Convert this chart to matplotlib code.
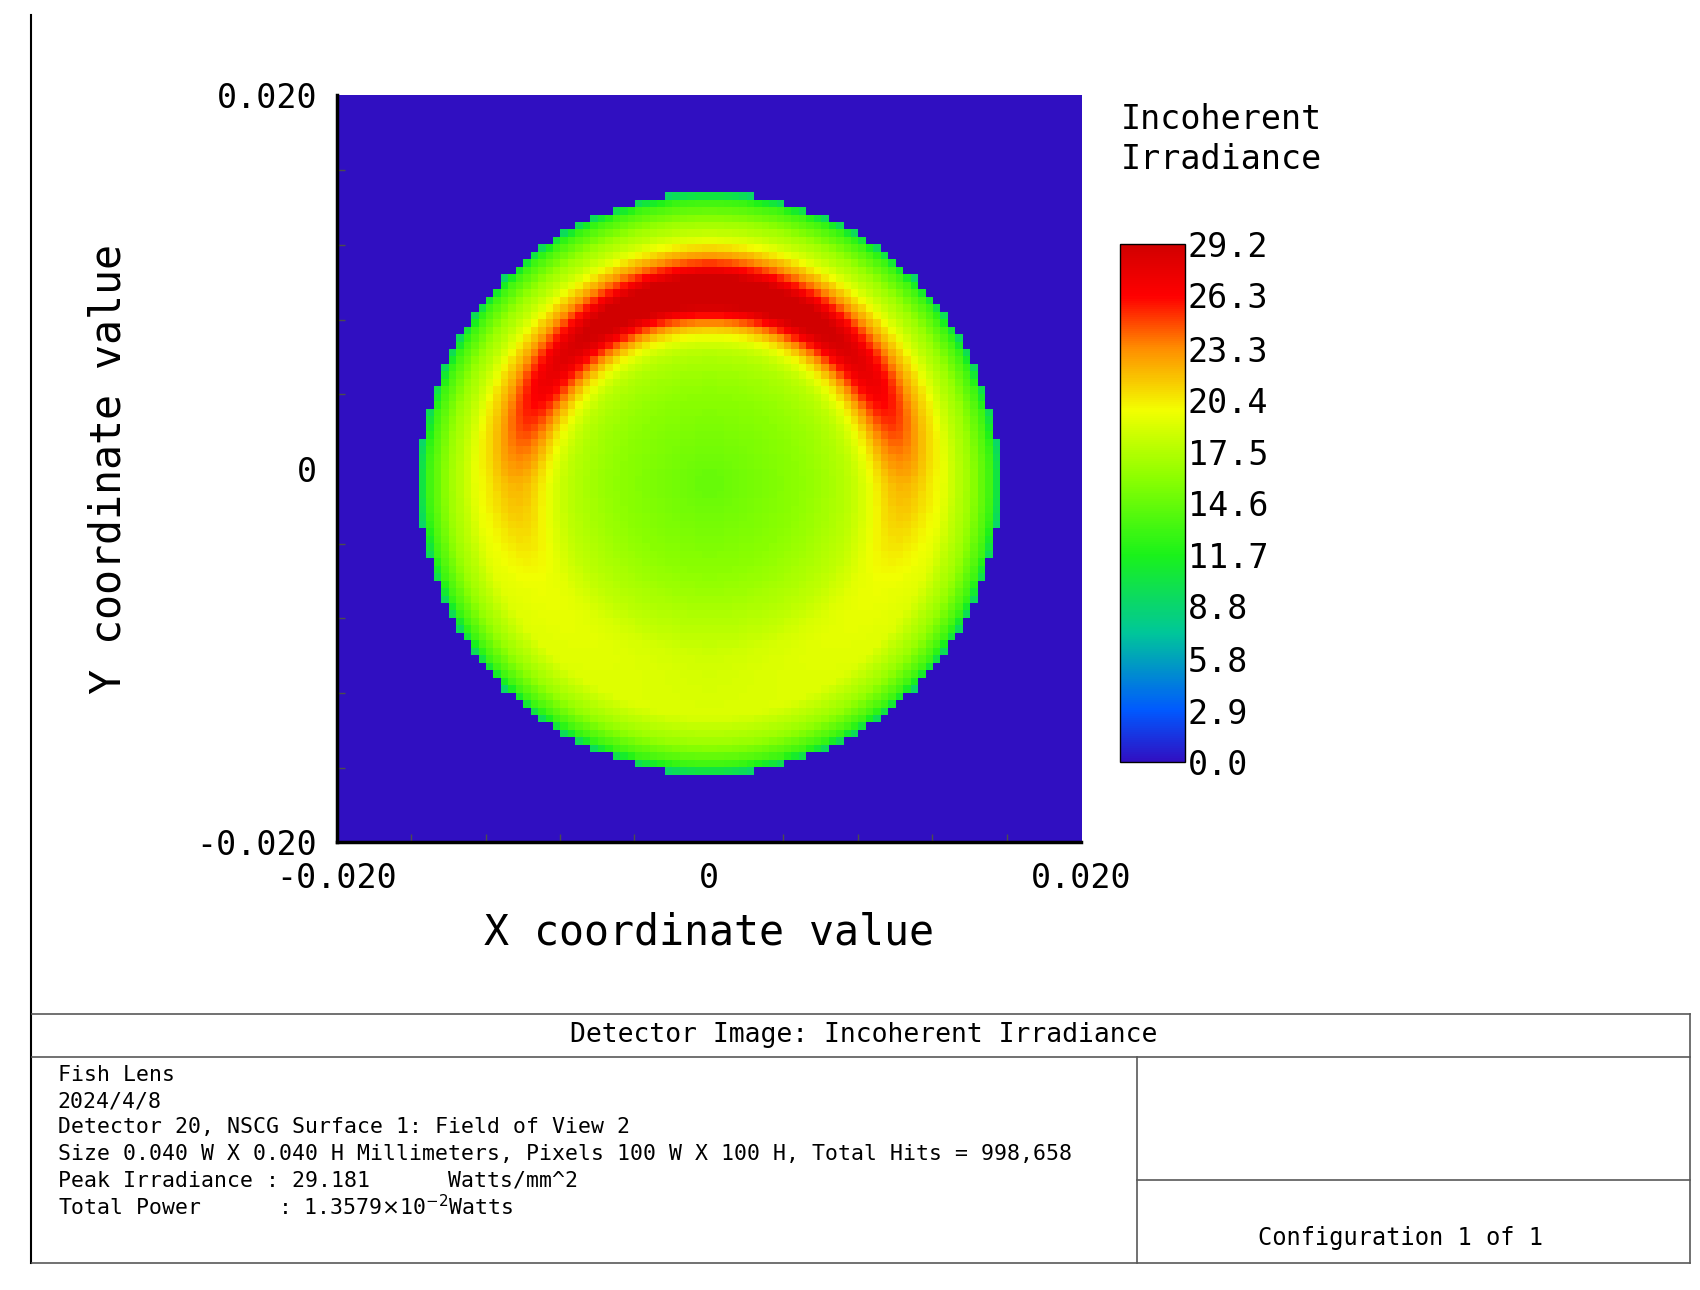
import numpy as np
import matplotlib
matplotlib.use('Agg')
import matplotlib.pyplot as plt
from matplotlib.colors import LinearSegmentedColormap
from matplotlib.lines import Line2D

plt.rcParams['font.family'] = ['DejaVu Sans Mono']

# detector: 100 x 100 pixels, 0.040 x 0.040 mm
n_pix = 100
half_w = 0.020
peak = 29.181

# beam spot
spot_cx, spot_cy, spot_r = 0.0000, -0.0008, 0.01556
# radial profile of the spot (r / R -> irradiance)
base_rr = [0.0, 0.3, 0.6, 0.8, 0.9, 0.97, 1.0]
base_val = [14.5, 16.0, 18.5, 19.0, 16.5, 13.0, 9.0]
# bright arc: extra irradiance vs angle from the top (degrees)
arc_ang = [0, 30, 60, 90, 120, 180]
arc_amp = [13.0, 11.5, 8.5, 3.5, 1.0, 0.0]
arc_rr, arc_sig = 0.66, 0.08

cb_ticks = [0.0, 2.9, 5.8, 8.8, 11.7, 14.6, 17.5, 20.4, 23.3, 26.3, 29.2]

info_lines = ["Fish Lens", "2024/4/8",
              "Detector 20, NSCG Surface 1: Field of View 2",
              "Size 0.040 W X 0.040 H Millimeters, Pixels 100 W X 100 H, Total Hits = 998,658",
              "Peak Irradiance : 29.181      Watts/mm^2",
              r"Total Power      : 1.3579$\times$10$^{-2}$Watts"]

# build detector image
c = (np.arange(n_pix) + 0.5) / n_pix * 2 * half_w - half_w
X, Y = np.meshgrid(c, c)
dx, dy = X - spot_cx, Y - spot_cy
rr = np.hypot(dx, dy) / spot_r
ang = np.degrees(np.arctan2(np.abs(dx), dy))
img = np.interp(rr, base_rr, base_val)
img += np.interp(ang, arc_ang, arc_amp) * np.exp(-0.5 * ((rr - arc_rr) / arc_sig) ** 2)
img = np.minimum(img, peak)
img[rr > 1.0] = 0.0

cmap = LinearSegmentedColormap.from_list('zmx', [
    (0.0, (0.19, 0.06, 0.76)), (0.1, (0.0, 0.35, 1.0)), (0.25, (0.0, 0.78, 0.6)),
    (0.4, (0.1, 0.95, 0.1)), (0.55, (0.55, 1.0, 0.0)), (0.68, (0.95, 1.0, 0.0)),
    (0.8, (1.0, 0.55, 0.0)), (0.9, (1.0, 0.0, 0.0)), (1.0, (0.82, 0.0, 0.0))])

fig = plt.figure(figsize=(17, 12.9), dpi=100)
ax = fig.add_axes([0.198, 0.347, 0.438, 0.579])
ax.imshow(img, cmap=cmap, vmin=0, vmax=peak, origin='lower',
          extent=[-half_w, half_w, -half_w, half_w], interpolation='nearest', aspect='auto')
ax.set_xticks([-0.02, 0, 0.02], ['-0.020', '0', '0.020'])
ax.set_yticks([-0.02, 0, 0.02], ['-0.020', '0', '0.020'])
ax.set_xticks(np.arange(-0.02, 0.0201, 0.004), minor=True)
ax.set_yticks(np.arange(-0.02, 0.0201, 0.004), minor=True)
ax.tick_params(which='both', direction='in', labelsize=24, length=6, width=1, color='0.3')
ax.tick_params(which='major', length=0, pad=14)
for s in ['top', 'right']:
    ax.spines[s].set_visible(False)
for s in ['left', 'bottom']:
    ax.spines[s].set_linewidth(2.5)
ax.set_xlabel('X coordinate value', fontsize=30, labelpad=12)
ax.set_ylabel('Y coordinate value', fontsize=30, labelpad=48)

cax = fig.add_axes([0.659, 0.409, 0.038, 0.402])
sm = plt.cm.ScalarMappable(cmap=cmap, norm=plt.Normalize(0, 29.2))
cb = fig.colorbar(sm, cax=cax, ticks=cb_ticks)
cb.ax.set_yticklabels([f'{t:.1f}' for t in cb_ticks])
cb.ax.tick_params(labelsize=24, length=0, pad=2)
cb.outline.set_linewidth(1)
fig.text(0.659, 0.92, 'Incoherent\nIrradiance', fontsize=24, va='top', ha='left', linespacing=1.25)

# info block
def fl(x0, y0, x1, y1, lw=1.2, col='0.35'):
    fig.add_artist(Line2D([x0, x1], [y0, y1], transform=fig.transFigure, color=col, lw=lw))

L, R, T, B = 0.019, 0.994, 0.214, 0.021
fl(0.018, 0.988, 0.018, B, lw=1.5, col='black')
fl(L, T, R, T); fl(L, B, R, B); fl(R, T, R, B)
fl(L, 0.181, R, 0.181)
fl(0.669, 0.181, 0.669, B)
fl(0.669, 0.085, R, 0.085)
fig.text(0.508, 0.198, 'Detector Image: Incoherent Irradiance', fontsize=19, ha='center', va='center')
y = 0.167
for line in info_lines:
    fig.text(0.034, y, line, fontsize=15.5, va='center', ha='left')
    y -= 0.0205
fig.text(0.824, 0.04, 'Configuration 1 of 1', fontsize=17, ha='center', va='center')

fig.savefig('out.png', dpi=100)
